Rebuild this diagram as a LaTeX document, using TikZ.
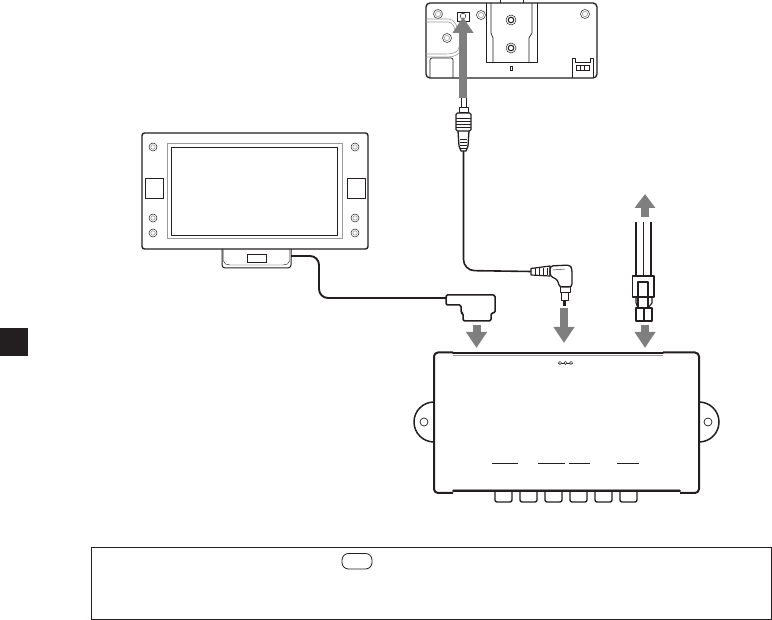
\documentclass[tikz,border=0pt]{standalone}
\usetikzlibrary{arrows.meta}
\definecolor{inkblack}{HTML}{231F20}
\definecolor{arrowgray}{HTML}{7F7F7F}
\definecolor{edgegray}{HTML}{9A9A9A}
\tikzset{
	outline/.style={draw=inkblack, line width=1pt, line join=round},
	heavy/.style={draw=inkblack, line width=2pt, line join=round},
	thin part/.style={draw=inkblack, line width=0.45pt},
	soft/.style={draw=edgegray, line width=0.6pt},
	cable/.style={draw=inkblack, line width=1.9pt, rounded corners=9pt},
	blockarrow/.style={draw=arrowgray, line width=8pt, -{Triangle[length=16pt,width=20pt,fill=arrowgray]}},
	screw/.style={draw=inkblack, line width=0.5pt}
}
\begin{document}
\begin{tikzpicture}[x=1pt,y=-1pt]
\useasboundingbox (0,0) rectangle (772,620);
% side mark and note box
\fill[inkblack] (0,328) rectangle (28,356);
\draw[draw=inkblack, line width=0.9pt] (91,547) rectangle (771.5,619);
\draw[draw=inkblack, line width=0.8pt, rounded corners=6.5pt] (342,553.5) rectangle (372,569);

% top unit
\draw[outline, line width=1.3pt, rounded corners=4pt] (426,3) rectangle (597,78);
\foreach \x/\y in {438/14, 481/15, 585/14, 447/38}
{
	\draw[screw] (\x,\y) circle (4.5pt);
	\draw[soft] (\x,\y) circle (2.6pt);
}
\draw[thin part] (457,12) rectangle (469,21);
\draw[screw] (463,16) circle (2.8pt);
\draw[soft] (426,19) -- (448,19) to[out=0,in=90] (458,33);
\draw[soft] (426,22) -- (448,22) to[out=0,in=90] (455,33);
\draw[soft] (426,54) -- (446,54) to[out=0,in=-90] (459,47);
\draw[soft] (426,57) -- (448,57) to[out=0,in=-90] (461,48);
\draw[thin part, line width=0.7pt, rounded corners=2pt] (430,78) -- (430,58) -- (453,58) -- (453,78);
\draw[thin part, line width=0.7pt] (486,3) -- (486,62) -- (537,62) -- (537,3);
\draw[thin part, line width=0.7pt] (491,3) -- (491,33) -- (493,38) -- (493,62);
\draw[thin part, line width=0.7pt] (532,3) -- (532,33) -- (529,38) -- (529,62);
\draw[outline] (500,3) -- (500,0) -- (523,0) -- (523,3);
\foreach \y in {20,48}
{
	\draw[screw] (511,\y) circle (5pt);
	\draw[draw=inkblack, line width=1pt] (511,\y) circle (2.8pt);
}
\draw[thin part] (510,66) rectangle (512,70);
\draw[outline] (572,78) -- (572,59) -- (575,59) -- (575,63) -- (590,63) -- (590,59) -- (593,59) -- (593,78);
\draw[draw=inkblack, line width=1pt] (576,66) rectangle (589,71);
\foreach \x in {580.5,584.5}
{
	\draw[draw=inkblack, line width=1pt] (\x,66) -- (\x,71);
}

% monitor
\draw[outline, line width=1.4pt, rounded corners=2.5pt] (142,133) rectangle (368,249);
\draw[soft, line width=0.9pt] (167,143) rectangle (342,238);
\draw[outline, line width=0.7pt] (171,147) rectangle (337,235);
\foreach \x in {153,355}
{
	\foreach \y in {147,218,233}
	{
		\draw[screw] (\x,\y) circle (4pt);
		\draw[soft] (\x,\y) circle (2.2pt);
	}
}
\draw[thin part] (145,178) rectangle (163,198);
\draw[thin part] (347,178) rectangle (365,198);
\draw[outline, rounded corners=3pt] (222,249) -- (222,268) -- (291,268) -- (291,249);
\draw[thin part, rounded corners=2pt] (223.5,249) -- (223.5,263) -- (228,265) -- (285,265) -- (289.5,263) -- (289.5,249);
\draw[thin part] (247,254) rectangle (266,262);
\coordinate (monitorjack) at (291,256);

% main box
\draw[heavy, rounded corners=4pt] (453,352.5) -- (434,352.5) -- (434,493) -- (453,493);
\draw[heavy, rounded corners=4pt] (663,352.5) -- (699,352.5) -- (699,493) -- (680,493);
\draw[heavy, line cap=round] (453,353.5) -- (663,353.5);
\draw[heavy, line cap=round] (453,491) -- (680,491);
\draw[edgegray, line width=0.6pt] (453,355) -- (663,355);
\draw[edgegray, line width=0.6pt] (453,489.5) -- (680,489.5);
\draw[outline, line width=1.5pt] (434,402) arc[start angle=90, delta angle=180, radius=20pt];
\draw[outline, line width=1.5pt] (699,402) arc[start angle=90, delta angle=-180, radius=20pt];
\foreach \x in {424,708}
{
	\draw[thin part, line width=0.7pt] (\x,422) circle (4pt);
}
\foreach \x in {495,520,545,570,595,620}
{
	\draw[heavy, line width=1.4pt, rounded corners=2pt] (\x,492) -- (\x,502) -- (\x+17,502) -- (\x+17,492);
}
\foreach \a/\b in {492/518, 538/565, 569/590, 617/639}
{
	\draw[draw=inkblack, line width=0.8pt] (\a,463) -- (\b,463);
}
\draw[draw=inkblack, line width=0.4pt] (558,363) -- (573,363);
\foreach \x in {560,565.5,571}
{
	\fill[white] (\x,363) circle (1.6pt);
	\draw[draw=inkblack, line width=0.5pt] (\x,363) circle (1.6pt);
}

% monitor plug
\draw[outline, line width=1.5pt, rounded corners=1.5pt] (446,295) -- (495,295) -- (495,313) -- (491,313) -- (491,321) -- (463,321) -- (463,313) -- (461,313) -- (461,305) -- (446,305) -- cycle;
\coordinate (monitorplug) at (446,298);
\draw[cable] (monitorjack) -- (319,256) -- (319,298) -- (monitorplug);

% jack on top
\draw[outline] (461,98) rectangle (466,108);
\draw[outline] (459,108) rectangle (468,113);
\draw[outline, line width=1.3pt, rounded corners=1.5pt] (456,113) -- (471,113) -- (471,131) -- (456,131) -- cycle;
\foreach \y in {118,121,124,127}
{
	\draw[thin part] (456,\y) -- (471,\y);
}
\draw[outline, line width=1.3pt] (458,131) -- (459,146) -- (461,151) -- (466,151) -- (468,146) -- (469,131);
\foreach \y in {139,142,145,148}
{
	\draw[thin part, line width=0.9pt] (460,\y) -- (467,\y);
}
\coordinate (jacktop) at (463.5,151);

% angle plug
\draw[outline, line width=1.2pt] (531,268.5) -- (550,266) -- (550,276) -- (531,275) -- cycle;
\foreach \x in {535,539,543,547}
{
	\draw[draw=inkblack, line width=0.9pt] (\x,268) -- (\x,275);
}
\draw[outline, line width=1.3pt, rounded corners=3pt] (550,266) -- (570,265) -- (572,269) -- (572,287) -- (559,287) -- (558,280) -- (550,276) -- cycle;
\draw[thin part] (553,270) -- (565,269);
\draw[outline] (560,287) rectangle (570,293);
\draw[outline] (561,293) rectangle (568,301);
\draw[draw=inkblack, line width=3pt] (564.5,301) -- (564.5,306);
\coordinate (jackside) at (531,271.5);
\draw[cable, line width=1.6pt, rounded corners=11pt] (jacktop) -- (463.5,270.5) -- (jackside);

% power connector
\foreach \x in {636,643.5,651}
{
	\draw[draw=inkblack, line width=1.9pt] (\x,222) -- (\x,276);
}
\draw[outline, line width=1.9pt, fill=white] (632.5,276) rectangle (654,297);
\draw[outline, line width=1.1pt] (638,282) -- (648,282) -- (648,308) -- (638,308) -- cycle;
\draw[outline, line width=1.1pt] (636,297) -- (636,303) -- (638,308);
\draw[outline, line width=1.1pt] (652,297) -- (652,303) -- (648,308);
\draw[outline, line width=1.9pt] (636,308) -- (636,321) -- (652,321) -- (652,308) -- cycle;
\draw[draw=inkblack, line width=2pt] (644,308) -- (644,321);

% arrows
\coordinate (toptail) at (463,98);
\coordinate (toptip) at (463,17);
\coordinate (wiretail) at (645,217);
\coordinate (wiretip) at (645,194);
\draw[blockarrow] (toptail) -- (toptip);
\draw[blockarrow, -{Triangle[length=14pt,width=20pt,fill=arrowgray]}] (wiretail) -- (wiretip);
\foreach \name/\x/\ya/\yb in {monitorport/476.5/325/348, jackport/564/308/343, powerport/645/325/348}
{
	\coordinate (\name tail) at (\x,\ya);
	\coordinate (\name tip) at (\x,\yb);
	\draw[blockarrow] (\name tail) -- (\name tip);
}
\end{tikzpicture}
\end{document}
